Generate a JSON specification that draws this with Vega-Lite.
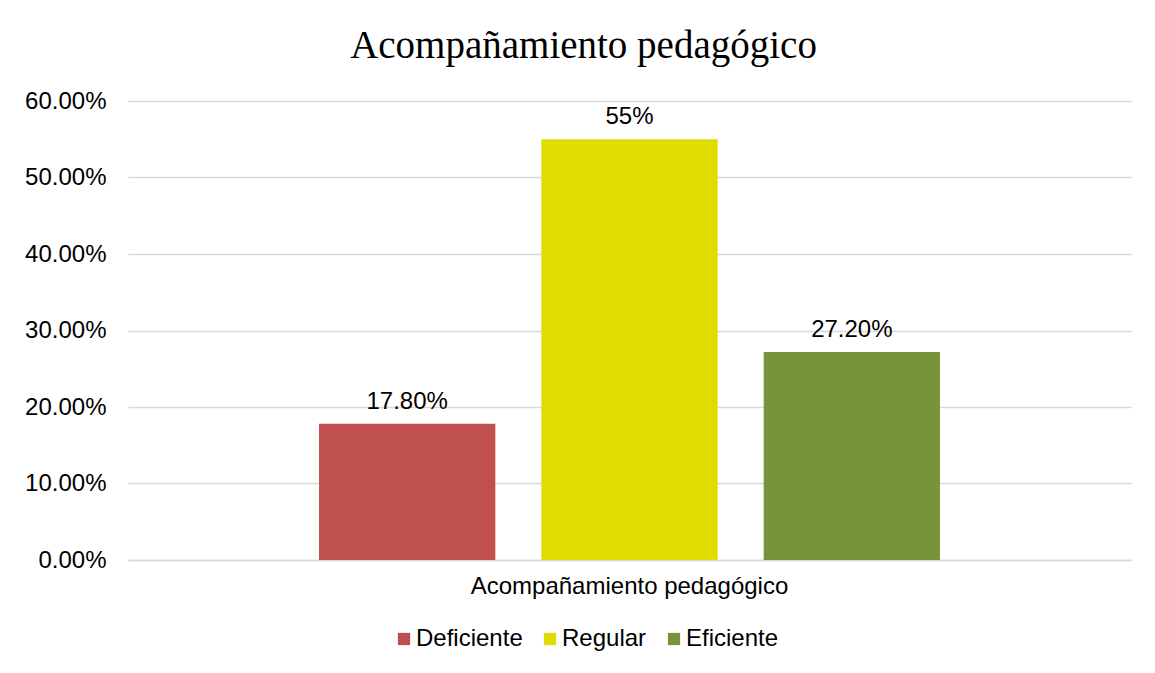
{
  "$schema": "https://vega.github.io/schema/vega-lite/v6.json",
  "width": 1003,
  "height": 459,
  "autosize": "none",
  "padding": {"left": 128, "top": 101, "right": 24, "bottom": 113},
  "background": "white",
  "config": {
    "view": {"stroke": null},
    "font": "Liberation Sans"
  },
  "title": {
    "text": "Acompañamiento pedagógico",
    "font": "Liberation Serif",
    "fontSize": 39,
    "fontWeight": "normal",
    "color": "#000000",
    "anchor": "middle",
    "dx": -46,
    "offset": 23
  },
  "data": {
    "values": [
      {"grupo": "Acompañamiento pedagógico", "nivel": "Deficiente", "valor": 0.178, "etiqueta": "17.80%"},
      {"grupo": "Acompañamiento pedagógico", "nivel": "Regular", "valor": 0.55, "etiqueta": "55%"},
      {"grupo": "Acompañamiento pedagógico", "nivel": "Eficiente", "valor": 0.272, "etiqueta": "27.20%"}
    ]
  },
  "encoding": {
    "x": {
      "field": "grupo",
      "type": "nominal",
      "scale": {"paddingInner": 0, "paddingOuter": 0.3076},
      "axis": {
        "title": null,
        "labelAngle": 0,
        "labelFontSize": 24,
        "labelLimit": 0,
        "labelColor": "#000000",
        "labelPadding": 14,
        "ticks": false,
        "domain": true,
        "domainColor": "#d9d9d9",
        "domainWidth": 1.5
      }
    },
    "xOffset": {
      "field": "nivel",
      "type": "nominal",
      "sort": ["Deficiente", "Regular", "Eficiente"],
      "scale": {"paddingInner": 0.207, "paddingOuter": 0}
    },
    "y": {
      "field": "valor",
      "type": "quantitative",
      "scale": {"domain": [0, 0.6], "nice": false},
      "axis": {
        "title": null,
        "format": ".2%",
        "values": [0, 0.1, 0.2, 0.3, 0.4, 0.5, 0.6],
        "labelFontSize": 24,
        "labelColor": "#000000",
        "labelPadding": 22,
        "ticks": false,
        "domain": false,
        "grid": true,
        "gridColor": "#d9d9d9",
        "gridWidth": 1.5
      }
    }
  },
  "layer": [
    {
      "mark": {"type": "bar"},
      "encoding": {
        "color": {
          "field": "nivel",
          "type": "nominal",
          "sort": ["Deficiente", "Regular", "Eficiente"],
          "scale": {"domain": ["Deficiente", "Regular", "Eficiente"], "range": ["#C0504D", "#DFDC00", "#77933C"]},
          "legend": {
            "title": null,
            "orient": "none",
            "direction": "horizontal",
            "legendX": 264,
            "legendY": 526,
            "symbolType": "square",
            "symbolSize": 150,
            "symbolStrokeWidth": 0,
            "labelFontSize": 24,
            "labelColor": "#000000",
            "labelOffset": 0,
            "columnPadding": 15
          }
        }
      }
    },
    {
      "mark": {"type": "text", "baseline": "bottom", "dy": -10, "fontSize": 24, "color": "#000000"},
      "encoding": {
        "text": {"field": "etiqueta", "type": "nominal"}
      }
    }
  ]
}
